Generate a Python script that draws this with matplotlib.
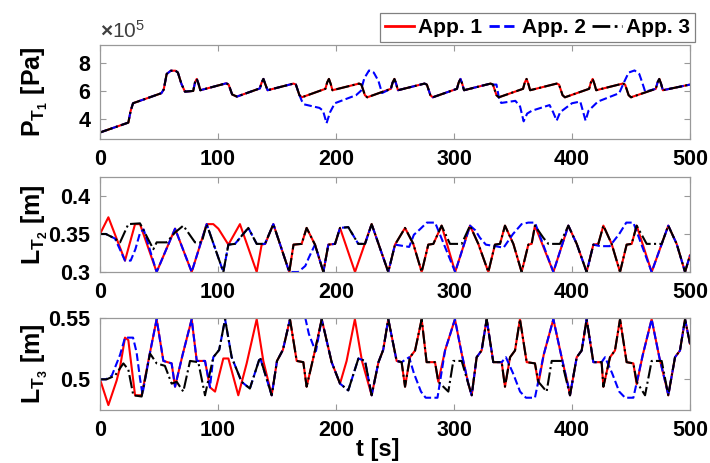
import numpy as np
import matplotlib
matplotlib.use("Agg")
import matplotlib.pyplot as plt
from matplotlib.lines import Line2D

plt.rcParams['font.family'] = ['Liberation Sans', 'DejaVu Sans']
plt.rcParams['font.weight'] = 'bold'
plt.rcParams['axes.labelweight'] = 'bold'
plt.rcParams['mathtext.fontset'] = 'custom'
plt.rcParams['mathtext.rm'] = 'Liberation Sans'
plt.rcParams['mathtext.bf'] = 'Liberation Sans:bold'
plt.rcParams['mathtext.it'] = 'Liberation Sans:italic'

# ---- P_T1 (x 1e5 Pa): App. 1 and App. 3 coincide ----
t_p = [0, 24, 26, 28, 52, 54, 56.5, 60, 64, 66, 69, 72, 79, 80.5, 82, 83.5, 85, 107, 109, 112, 116,
       135.5, 137, 138.5, 140, 142, 164, 166, 169, 171,
       191, 192.5, 194, 195.5, 197, 219.5, 221.5, 224.5, 226.5,
       246.5, 248, 249.5, 251, 252.5, 275, 277, 280, 282,
       302.5, 304, 305.5, 307, 308.5, 331, 333, 336, 338,
       358.5, 360, 361.5, 363, 364.5, 387, 389, 392, 394,
       414.5, 416, 417.5, 419, 420.5, 443, 445, 448, 450,
       471, 472.5, 474, 475.5, 477, 500]
p_base = [3.06, 3.76, 4.6, 5.13, 5.84, 6.1, 7.2, 7.43, 7.43, 7.3, 6.5, 5.95, 6.0, 6.6, 6.85, 6.5, 6.05, 6.54, 6.45, 5.75, 5.6,
          6.18, 6.6, 6.85, 6.5, 6.05, 6.52, 6.45, 5.7, 5.55,
          6.15, 6.6, 6.85, 6.5, 6.05, 6.52, 6.45, 5.7, 5.55,
          6.15, 6.6, 6.85, 6.5, 6.05, 6.52, 6.45, 5.7, 5.55,
          6.15, 6.6, 6.85, 6.5, 6.05, 6.52, 6.45, 5.7, 5.55,
          6.15, 6.6, 6.85, 6.5, 6.05, 6.52, 6.45, 5.7, 5.55,
          6.15, 6.6, 6.85, 6.5, 6.05, 6.52, 6.45, 5.7, 5.55,
          6.15, 6.6, 6.85, 6.5, 6.05, 6.45]
# App. 2 departs from the others in two windows
t_p2_a = [166, 169, 171, 173, 186, 189, 192, 195, 199, 217, 221, 224, 228, 232, 236, 239]
p2_a = [6.45, 5.7, 5.3, 5.05, 4.8, 4.6, 3.72, 4.5, 5.13, 5.7, 6.0, 6.9, 7.45, 7.3, 6.7, 5.85]
t_p2_b = [336, 338, 340, 352, 356, 359, 362, 366, 381, 384, 387, 390, 400, 407, 409.5, 411.5, 414,
          422, 440, 444, 448, 453, 457, 459.5, 462]
p2_b = [6.45, 5.55, 5.15, 5.3, 4.9, 3.85, 4.4, 4.6, 5.0, 4.5, 3.9, 4.5, 5.13, 5.25, 4.5, 3.9, 4.6,
        5.25, 5.84, 6.6, 7.3, 7.45, 7.2, 6.6, 5.95]

# ---- L_T2 [m] ----
t_l2_a3 = [0, 5, 12.7, 17, 24, 33.9, 45.2, 48, 56.5, 63.6, 70.6, 80.5, 86.2, 90.4, 104.5, 108.8, 114.4,
           125.7, 132.8, 139.8, 146.9, 160.4, 164, 170.9, 175.1, 182.2, 189.3, 193.5, 199.2, 203.4,
           210.4, 218.9, 224.6, 230.2, 244.3, 250, 258.5, 265.5, 272.6, 278.2, 282.5, 289.5, 296.6,
           306.5, 313.6, 320.6, 329.1, 334.7, 339, 343.2, 350.3, 357.3, 363, 365.8, 368.6, 375.7,
           380, 389.8, 396.9, 404, 412.4, 418.1, 422.3, 426.6, 433.6, 440.7, 446.3, 450.6, 454.8,
           463.3, 476, 481.6, 488.7, 495.8, 500]
l2_a3 = [0.35, 0.35, 0.344, 0.339, 0.363, 0.364, 0.330, 0.339, 0.339, 0.352, 0.361, 0.339, 0.339, 0.363,
         0.300, 0.336, 0.337, 0.358, 0.337, 0.337, 0.363, 0.300, 0.336, 0.337, 0.358, 0.336, 0.300,
         0.336, 0.337, 0.358, 0.359, 0.337, 0.337, 0.363, 0.300, 0.336, 0.358, 0.337, 0.300, 0.336,
         0.337, 0.361, 0.337, 0.337, 0.361, 0.337, 0.300, 0.336, 0.337, 0.361, 0.337, 0.300, 0.336,
         0.337, 0.361, 0.345, 0.337, 0.337, 0.361, 0.337, 0.300, 0.336, 0.337, 0.361, 0.337, 0.300,
         0.336, 0.337, 0.361, 0.337, 0.337, 0.361, 0.337, 0.300, 0.322]
t_l2_a1 = [0, 7.1, 21.2, 29.7, 33.9, 48, 63.6, 77.7, 90.4, 96, 100.3, 108.8, 118.6, 132.8, 137, 140,
           146.9, 160.4, 164, 170.9, 175.1, 182.2, 189.3, 193.5, 199.2, 203.4, 216.1, 230.2, 244.3,
           250, 258.5, 265.5, 272.6, 278.2, 282.5, 289.5, 301, 313.6, 320.6, 329.1, 334.7, 339,
           343.2, 350.3, 357.3, 363, 365.8, 368.6, 384.2, 396.9, 404, 412.4, 418.1, 422.3, 426.6,
           433.6, 440.7, 446.3, 450.6, 454.8, 467.5, 481.6, 488.7, 495.8, 500]
l2_a1 = [0.35, 0.372, 0.315, 0.363, 0.363, 0.300, 0.357, 0.300, 0.363, 0.363, 0.357, 0.336, 0.363,
         0.300, 0.336, 0.337, 0.363, 0.300, 0.336, 0.337, 0.358, 0.336, 0.300, 0.336, 0.337, 0.358,
         0.300, 0.363, 0.300, 0.336, 0.358, 0.337, 0.300, 0.336, 0.337, 0.361, 0.300, 0.361, 0.337,
         0.300, 0.336, 0.337, 0.361, 0.337, 0.300, 0.336, 0.337, 0.361, 0.300, 0.361, 0.337, 0.300,
         0.336, 0.337, 0.361, 0.337, 0.300, 0.336, 0.337, 0.361, 0.300, 0.361, 0.337, 0.300, 0.322]
t_l2_a2 = [0, 5, 12.7, 21.2, 26, 30, 34, 37, 48, 63.6, 77.7, 90.4, 104.5, 108.8, 114.4, 125.7, 132.8,
           139.8, 146.9, 160.4, 168, 174, 177, 182.2, 189.3, 193.5, 199.2, 203.4, 210.4, 218.9,
           224.6, 230.2, 244.3, 250, 262, 266, 271, 277, 284, 301, 313.6, 318, 322, 327, 335, 342,
           350, 357.3, 363, 368.6, 384.2, 396.9, 404, 412.4, 418.1, 424, 432, 440, 446, 452, 467.5,
           481.6, 488.7, 495.8, 500]
l2_a2 = [0.35, 0.35, 0.344, 0.315, 0.315, 0.330, 0.352, 0.356, 0.300, 0.357, 0.300, 0.363, 0.300,
         0.336, 0.337, 0.358, 0.337, 0.337, 0.363, 0.300, 0.300, 0.308, 0.319, 0.336, 0.300, 0.336,
         0.337, 0.358, 0.359, 0.337, 0.337, 0.363, 0.300, 0.336, 0.333, 0.349, 0.356, 0.365, 0.365,
         0.300, 0.361, 0.355, 0.345, 0.336, 0.334, 0.332, 0.350, 0.363, 0.365, 0.365, 0.300, 0.361,
         0.337, 0.300, 0.336, 0.334, 0.334, 0.350, 0.365, 0.365, 0.300, 0.361, 0.337, 0.300, 0.322]

# ---- L_T3 [m] ----
t_l3_a3 = [0, 5.6, 12.7, 19.8, 24, 28.2, 35.3, 42.4, 48, 55, 60.7, 65, 70.6, 76.3, 83.3, 89, 96, 101,
           106, 111.6, 120, 127, 135.6, 145.5, 150, 155, 161, 166.7, 172.3, 175.1, 182.2, 187.9,
           196.3, 203.4, 210.4, 219, 224.6, 230.2, 236, 240, 244.3, 251.4, 255.6, 258.5, 262.7, 267,
           272.6, 276.8, 283.9, 286.7, 295.2, 299.4, 306.5, 315, 319.2, 323.4, 327.7, 333.3, 340.4,
           343.2, 347.5, 351.7, 355.9, 361.6, 368.6, 371.5, 378.5, 382.8, 391.2, 398.3, 404, 408.2,
           412.4, 418.1, 425.1, 426.6, 432.2, 436.4, 440.7, 446.3, 452, 454.8, 461.9, 467.5, 476,
           481.6, 487.3, 491.5, 495.8, 500]
l3_a3 = [0.5, 0.5, 0.503, 0.513, 0.508, 0.487, 0.486, 0.521, 0.513, 0.511, 0.4965, 0.498, 0.49, 0.515,
         0.514, 0.487, 0.518, 0.524, 0.549, 0.518, 0.498, 0.4925, 0.518, 0.487, 0.515, 0.524, 0.549,
         0.515, 0.514, 0.494, 0.5235, 0.549, 0.514, 0.4965, 0.491, 0.517, 0.515, 0.487, 0.514, 0.524,
         0.549, 0.515, 0.514, 0.494, 0.518, 0.5235, 0.549, 0.514, 0.514, 0.498, 0.49, 0.515, 0.515,
         0.487, 0.518, 0.5235, 0.549, 0.514, 0.514, 0.494, 0.518, 0.5235, 0.549, 0.514, 0.513, 0.498,
         0.49, 0.515, 0.515, 0.487, 0.518, 0.5235, 0.549, 0.514, 0.514, 0.494, 0.518, 0.5235, 0.549,
         0.514, 0.513, 0.498, 0.487, 0.515, 0.515, 0.487, 0.518, 0.5235, 0.549, 0.529]
t_l3_a1 = [0, 7.1, 14.1, 17, 21.2, 24, 29.7, 35.3, 42, 48, 53.7, 60.7, 63.6, 70, 77.7, 82, 89, 93.2,
           97.5, 104.5, 108.8, 117.2, 124.3, 132.8, 138.4, 145.5, 150, 155, 161, 166.7, 172.3, 175.1,
           182.2, 187.9, 196.3, 203.4, 209, 216, 222, 230.2, 236, 240, 244.3, 251.4, 255.6, 258.5,
           262.7, 267, 272.6, 276.8, 283.9, 286.7, 292.4, 300.8, 306.5, 312.1, 315, 319.2, 323.4,
           327.7, 333.3, 340.4, 343.2, 347.5, 351.7, 355.9, 361.6, 368.6, 371.5, 376, 384.2, 391.2,
           396.9, 398.3, 404, 408.2, 412.4, 418.1, 425.1, 426.6, 432.2, 436.4, 440.7, 446.3, 452,
           454.8, 460, 467.5, 474, 480, 481.6, 487.3, 491.5, 495.8, 500]
l3_a1 = [0.5, 0.479, 0.499, 0.51, 0.534, 0.532, 0.487, 0.487, 0.52, 0.549, 0.515, 0.513, 0.494, 0.52,
         0.549, 0.515, 0.515, 0.4935, 0.49, 0.517, 0.517, 0.487, 0.513, 0.549, 0.515, 0.487, 0.515,
         0.524, 0.549, 0.515, 0.514, 0.494, 0.5235, 0.549, 0.514, 0.4965, 0.515, 0.549, 0.515, 0.487,
         0.514, 0.524, 0.549, 0.515, 0.514, 0.494, 0.518, 0.5235, 0.549, 0.514, 0.514, 0.498, 0.5235,
         0.549, 0.521, 0.4965, 0.487, 0.518, 0.5235, 0.549, 0.514, 0.514, 0.494, 0.518, 0.5235, 0.549,
         0.514, 0.513, 0.496, 0.52, 0.549, 0.518, 0.494, 0.487, 0.518, 0.5235, 0.549, 0.514, 0.514,
         0.494, 0.518, 0.5235, 0.549, 0.514, 0.513, 0.496, 0.52, 0.549, 0.518, 0.494, 0.487, 0.518,
         0.5235, 0.549, 0.529]
t_l3_a2 = [0, 5, 10, 17, 21.2, 28, 31, 34, 36, 42, 48, 53.7, 60.7, 63.6, 70, 77.7, 82, 89, 93.2, 96,
           101, 106, 111.6, 120, 127, 135.6, 145.5, 150, 155, 161, 165, 174, 177, 181, 183, 187.9,
           196.3, 203.4, 210.4, 219, 224.6, 230.2, 236, 240, 244.3, 251.4, 255.6, 262, 266, 272, 276,
           286, 292.4, 300.8, 306.5, 312.1, 315, 319.2, 323.4, 327.7, 333.3, 340.4, 344, 350, 356,
           361, 368.6, 376, 384.2, 391.2, 396.9, 398.3, 404, 408.2, 412.4, 418.1, 425.1, 428, 434,
           440, 445, 452, 460, 467.5, 474, 480, 481.6, 487.3, 491.5, 495.8, 500]
l3_a2 = [0.5, 0.5, 0.503, 0.52, 0.534, 0.534, 0.522, 0.5, 0.488, 0.52, 0.549, 0.515, 0.513, 0.494,
         0.52, 0.549, 0.515, 0.515, 0.4935, 0.518, 0.524, 0.549, 0.518, 0.498, 0.4925, 0.518, 0.487,
         0.515, 0.524, 0.549, 0.55, 0.55, 0.537, 0.527, 0.523, 0.549, 0.514, 0.4965, 0.491, 0.517,
         0.515, 0.487, 0.514, 0.524, 0.549, 0.515, 0.514, 0.518, 0.505, 0.49, 0.485, 0.485, 0.5235,
         0.549, 0.521, 0.4965, 0.487, 0.518, 0.5235, 0.549, 0.514, 0.514, 0.518, 0.505, 0.49, 0.485,
         0.485, 0.52, 0.549, 0.518, 0.494, 0.487, 0.518, 0.5235, 0.549, 0.514, 0.514, 0.518, 0.505,
         0.49, 0.485, 0.485, 0.52, 0.549, 0.518, 0.494, 0.487, 0.518, 0.5235, 0.549, 0.529]


def splice(t_base, v_base, pieces):
    # replace the base curve inside each window by the given points
    t_out, v_out = list(t_base), list(v_base)
    for tt, vv in pieces:
        keep = [(a, b) for a, b in zip(t_out, v_out) if a < tt[0] or a > tt[-1]]
        merged = sorted(keep + list(zip(tt, vv)))
        t_out = [m[0] for m in merged]
        v_out = [m[1] for m in merged]
    return t_out, v_out


t_p2, p_a2 = splice(t_p, p_base, [(t_p2_a, p2_a), (t_p2_b, p2_b)])

W, H = 710, 463
fig = plt.figure(figsize=(W / 100, H / 100), dpi=100)

def box(top, bottom, left=100, right=690):
    return [left / W, 1 - bottom / H, (right - left) / W, (bottom - top) / H]

ax1 = fig.add_axes(box(45, 139))
ax2 = fig.add_axes(box(177, 272))
ax3 = fig.add_axes(box(318, 410))

lw = 1.5
ax1.plot(t_p, p_base, color='red', lw=lw, ls='-')
ax1.plot(t_p2, p_a2, color='blue', lw=lw, ls='--')
ax1.plot(t_p, p_base, color='black', lw=lw, ls='-.')

ax2.plot(t_l2_a1, l2_a1, color='red', lw=lw, ls='-')
ax2.plot(t_l2_a2, l2_a2, color='blue', lw=lw, ls='--')
ax2.plot(t_l2_a3, l2_a3, color='black', lw=lw, ls='-.')

ax3.plot(t_l3_a1, l3_a1, color='red', lw=lw, ls='-')
ax3.plot(t_l3_a2, l3_a2, color='blue', lw=lw, ls='--')
ax3.plot(t_l3_a3, l3_a3, color='black', lw=lw, ls='-.')

ax1.set_ylim(2.6, 9.25)
ax1.set_yticks([4, 6, 8])
ax2.set_ylim(0.3, 0.425)
ax2.set_yticks([0.3, 0.35, 0.4])
ax2.set_yticklabels(['0.3', '0.35', '0.4'])
ax3.set_ylim(0.475, 0.55)
ax3.set_yticks([0.5, 0.55])
ax3.set_yticklabels(['0.5', '0.55'])

for ax in (ax1, ax2, ax3):
    ax.set_xlim(0, 500)
    ax.set_xticks([0, 100, 200, 300, 400, 500])
    ax.tick_params(direction='in', top=True, right=True, length=4, width=0.8,
                   color='0.6', labelsize=15.5, pad=7)
    for s in ax.spines.values():
        s.set_color('0.6')
        s.set_linewidth(0.9)

ax1.set_ylabel(r'$\mathbf{P_{T_1}}$ [Pa]', fontsize=18)
ax2.set_ylabel(r'$\mathbf{L_{T_2}}$ [m]', fontsize=18)
ax3.set_ylabel(r'$\mathbf{L_{T_3}}$ [m]', fontsize=18)
for ax in (ax1, ax2, ax3):
    ax.yaxis.set_label_coords(-0.085, 0.5)

ax3.set_xlabel('t [s]', fontsize=17)
ax3.xaxis.set_label_coords(0.47, -0.3)

ax1.text(0.0, 1.03, r'$\times\mathregular{10^{5}}$', transform=ax1.transAxes,
         fontsize=15, fontweight='normal', color='0.25', ha='left', va='bottom')

handles = [Line2D([], [], color='red', lw=2, ls='-'),
           Line2D([], [], color='blue', lw=2, ls='--'),
           Line2D([], [], color='black', lw=2, ls='-.')]
leg = fig.legend(handles, ['App. 1', 'App. 2', 'App. 3'], loc='upper right',
                 bbox_to_anchor=(695 / W, 1 - 13 / H), ncol=3, fontsize=15,
                 frameon=True, fancybox=False, edgecolor='0.5', framealpha=1,
                 handlelength=1.4, handletextpad=0.2, columnspacing=0.3,
                 borderpad=0.25, borderaxespad=0)
leg.get_frame().set_linewidth(0.9)

fig.savefig('out.png', dpi=100)
